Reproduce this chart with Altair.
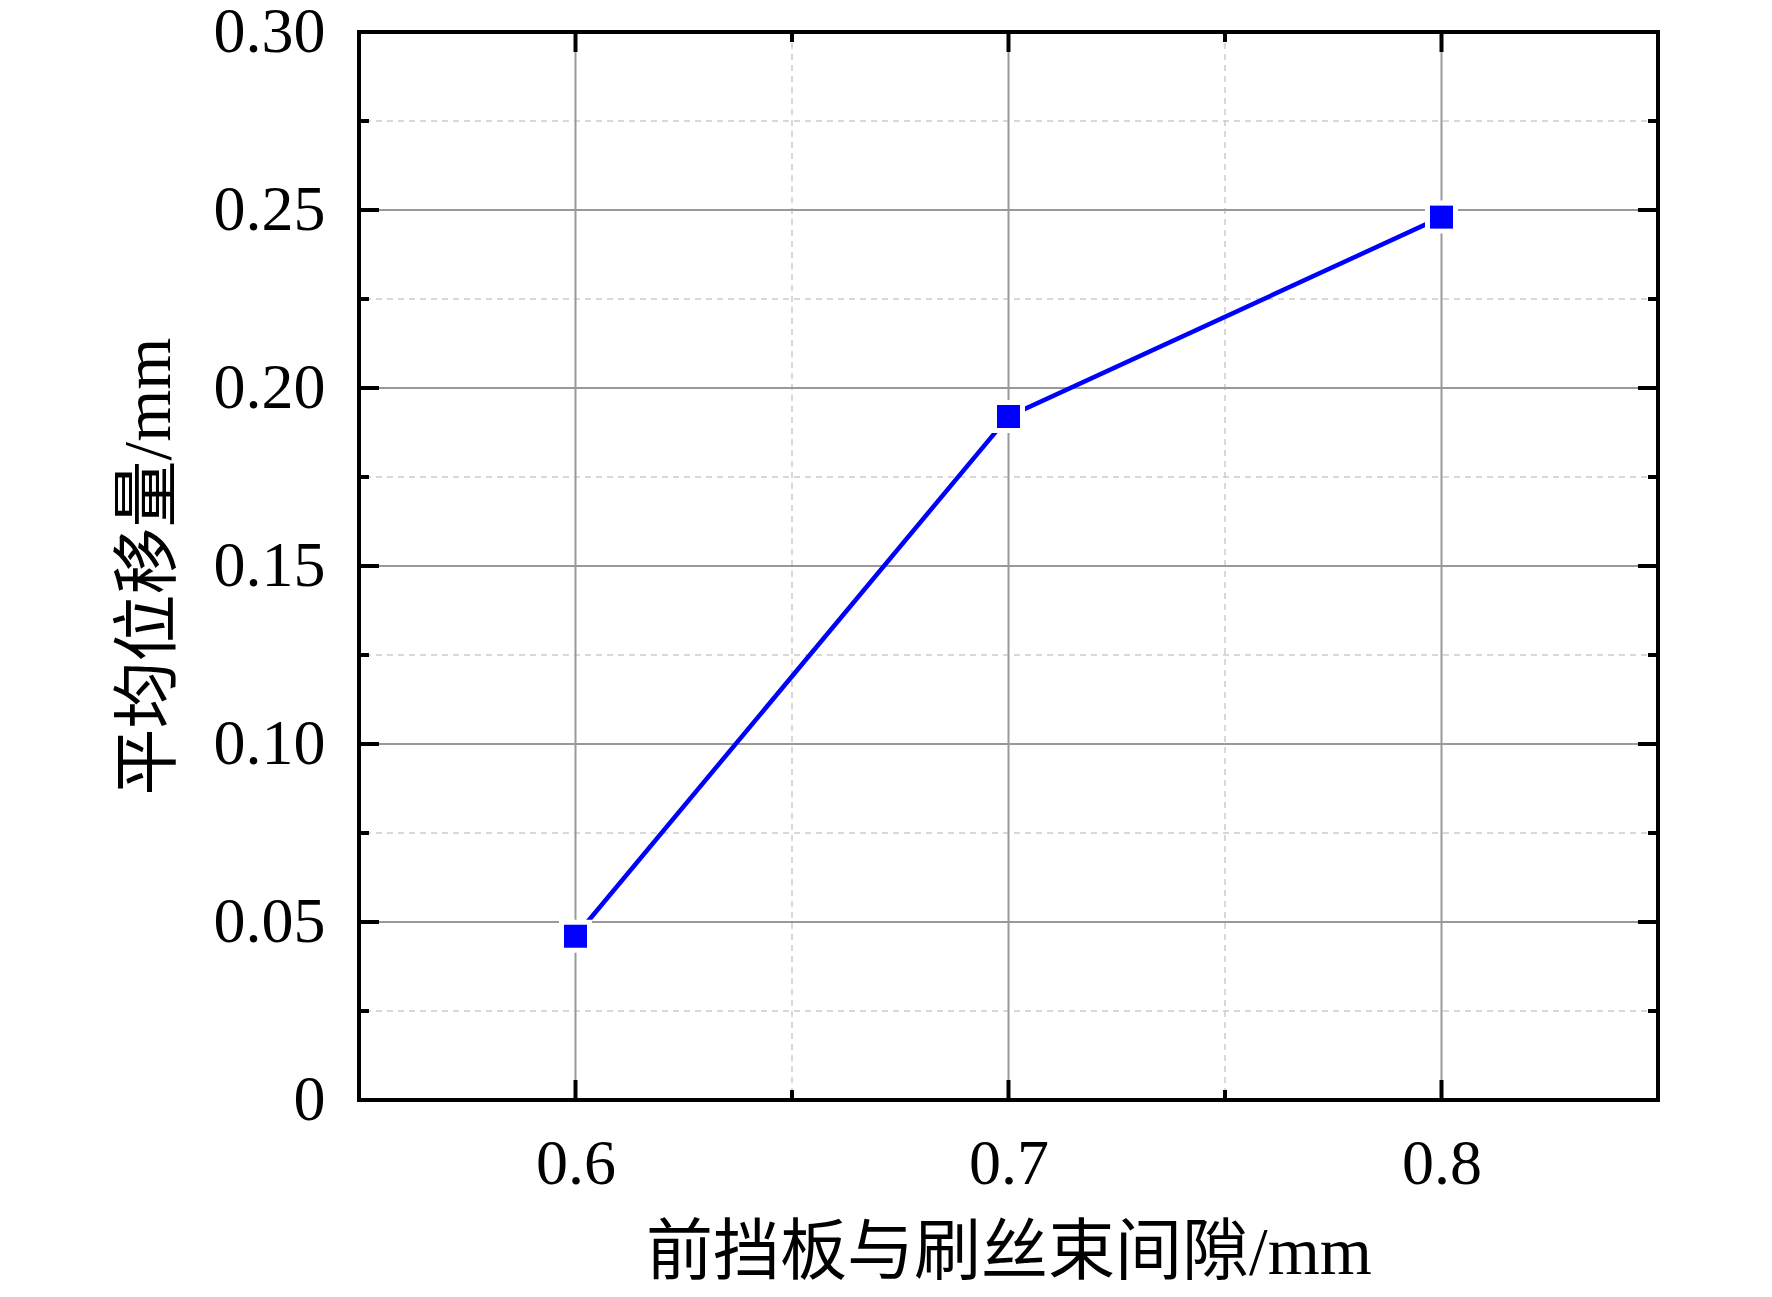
import altair as alt
import pandas as pd

# data
gap_mm = [0.6, 0.7, 0.8]
disp_mm = [0.046, 0.192, 0.248]

x_major = [0.6, 0.7, 0.8]
x_minor = [0.65, 0.75]
y_major = [0.0, 0.05, 0.10, 0.15, 0.20, 0.25, 0.30]
y_grid_major = [0.05, 0.10, 0.15, 0.20, 0.25]
y_minor = [0.025, 0.075, 0.125, 0.175, 0.225, 0.275]

x_title = "前挡板与刷丝束间隙/mm"
y_title = "平均位移量/mm"

W, H = 1299, 1068
FONT = "Liberation Serif, Times New Roman, Noto Sans CJK SC"

df = pd.DataFrame({"x": gap_mm, "y": disp_mm})
xmaj = pd.DataFrame({"v": x_major})
xmin = pd.DataFrame({"v": x_minor})
ymaj = pd.DataFrame({"v": y_major})
ygrid = pd.DataFrame({"v": y_grid_major})
ymin = pd.DataFrame({"v": y_minor})

xs = alt.Scale(domain=[0.55, 0.85], nice=False, zero=False)
ys = alt.Scale(domain=[0.0, 0.30], nice=False, zero=False)

x_axis = alt.Axis(values=x_major, format=".1f", title=x_title, grid=False, ticks=False,
                  tickSize=0, domain=False, labelFont=FONT, labelFontSize=64,
                  labelColor="black", labelPadding=32, titleFont=FONT, titleFontSize=67,
                  titleFontWeight="normal", titleColor="black", titlePadding=24)
y_axis = alt.Axis(values=y_major, labelExpr="datum.value == 0 ? '0' : format(datum.value, '.2f')",
                  title=y_title, grid=False, ticks=False, tickSize=0, domain=False,
                  labelFont=FONT, labelFontSize=64, labelColor="black", labelPadding=34,
                  titleFont=FONT, titleFontSize=67, titleFontWeight="normal",
                  titleColor="black", titlePadding=30)

# gridlines
grid_x_major = alt.Chart(xmaj).mark_rule(color="#999999", strokeWidth=2).encode(
    x=alt.X("v:Q", scale=xs, axis=x_axis))
grid_x_minor = alt.Chart(xmin).mark_rule(color="#cccccc", strokeWidth=1.5, strokeDash=[6, 5]).encode(
    x=alt.X("v:Q", scale=xs))
grid_y_major = alt.Chart(ygrid).mark_rule(color="#999999", strokeWidth=2).encode(
    y=alt.Y("v:Q", scale=ys, axis=y_axis))
grid_y_minor = alt.Chart(ymin).mark_rule(color="#cccccc", strokeWidth=1.5, strokeDash=[6, 5]).encode(
    y=alt.Y("v:Q", scale=ys))

line = alt.Chart(df).mark_line(color="#0000ff", strokeWidth=4.5).encode(
    x=alt.X("x:Q", scale=xs), y=alt.Y("y:Q", scale=ys))
halo = alt.Chart(df).mark_point(shape="square", filled=True, color="white", opacity=1, size=1089).encode(
    x=alt.X("x:Q", scale=xs), y=alt.Y("y:Q", scale=ys))
pts = alt.Chart(df).mark_point(shape="square", filled=True, color="#0000ff", opacity=1, size=529).encode(
    x=alt.X("x:Q", scale=xs), y=alt.Y("y:Q", scale=ys))

# inward ticks on all four sides
def yticks(data, length, left=True):
    x0 = 0 if left else W - length
    return alt.Chart(data).mark_rule(color="black", strokeWidth=4).encode(
        y=alt.Y("v:Q", scale=ys), x=alt.value(x0), x2=alt.value(x0 + length))

def xticks(data, length, bottom=True):
    y0 = H - length if bottom else 0
    return alt.Chart(data).mark_rule(color="black", strokeWidth=4).encode(
        x=alt.X("v:Q", scale=xs), y=alt.value(y0), y2=alt.value(y0 + length))

ticks = [
    yticks(ymaj, 20, True), yticks(ymin, 10, True),
    yticks(ymaj, 20, False), yticks(ymin, 10, False),
    xticks(xmaj, 20, True), xticks(xmin, 10, True),
    xticks(xmaj, 20, False), xticks(xmin, 10, False),
]

# plot frame
frame_base = alt.Chart(pd.DataFrame({"k": [0]}))
frame = [
    frame_base.mark_rule(color="black", strokeWidth=4, strokeCap="square").encode(
        x=alt.value(0), y=alt.value(0), y2=alt.value(H)),
    frame_base.mark_rule(color="black", strokeWidth=4, strokeCap="square").encode(
        x=alt.value(W), y=alt.value(0), y2=alt.value(H)),
    frame_base.mark_rule(color="black", strokeWidth=4, strokeCap="square").encode(
        y=alt.value(0), x=alt.value(0), x2=alt.value(W)),
    frame_base.mark_rule(color="black", strokeWidth=4, strokeCap="square").encode(
        y=alt.value(H), x=alt.value(0), x2=alt.value(W)),
]

chart = alt.layer(
    grid_x_minor, grid_y_minor, grid_x_major, grid_y_major,
    line, halo, pts, *ticks, *frame
).properties(
    width=W, height=H,
    autosize=alt.AutoSizeParams(type="none"),
    padding={"left": 351, "top": 24, "right": 100, "bottom": 189},
    background="white",
).configure_view(stroke=None)

chart.save("out.html", embed_options={"renderer": "svg", "actions": False})
